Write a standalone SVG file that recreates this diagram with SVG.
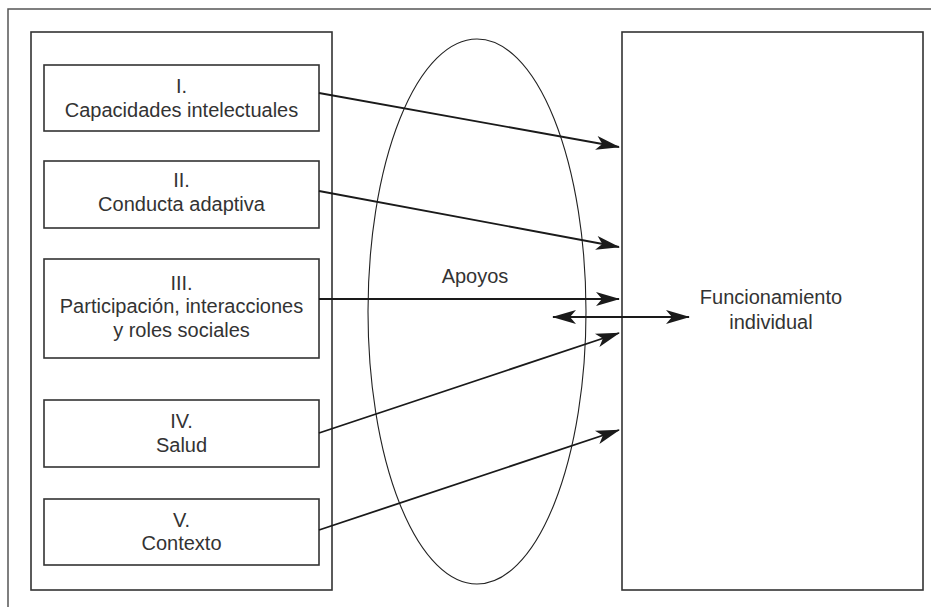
<svg xmlns="http://www.w3.org/2000/svg" width="931" height="607" viewBox="0 0 931 607">
<style>
  .frame { fill: none; stroke: #555; stroke-width: 1.5; }
  .box { fill: #fff; stroke: #333; stroke-width: 1.6; }
  .ell { fill: none; stroke: #222; stroke-width: 1.1; }
  .conn { fill: none; stroke: #1a1a1a; stroke-width: 1.8; }
  text { font-family: "Liberation Sans", Arial, sans-serif; font-size: 20px; fill: #333; text-anchor: middle; }
</style>
<defs>
  <marker id="ah" viewBox="-24 -8 26 16" refX="0" refY="0" markerWidth="26" markerHeight="16" markerUnits="userSpaceOnUse" orient="auto-start-reverse">
    <path d="M1,0 L-23,-7 L-17,0 L-23,7 Z" fill="#1a1a1a"/>
  </marker>
</defs>
<rect width="931" height="607" fill="#fff"/>
<path class="frame" d="M8,607 L8,9 L931,9"/>
<g id="left-panel">
  <rect class="box" x="31" y="32" width="301" height="558"/>
</g>
<g id="apoyos">
  <ellipse class="ell" cx="477" cy="311.5" rx="109" ry="272.5"/>
  <text x="475" y="283">Apoyos</text>
</g>
<g id="funcionamiento">
  <rect class="box" x="622" y="32" width="301" height="558"/>
  <text x="771" y="304">Funcionamiento</text>
  <text x="771" y="329">individual</text>
</g>
<g id="box1">
  <rect class="box" x="44" y="65" width="275" height="66"/>
  <text x="181.5" y="93">I.</text>
  <text x="181.5" y="117">Capacidades intelectuales</text>
</g>
<g id="box2">
  <rect class="box" x="44" y="161" width="275" height="67"/>
  <text x="181.5" y="187">II.</text>
  <text x="181.5" y="211">Conducta adaptiva</text>
</g>
<g id="box3">
  <rect class="box" x="44" y="259" width="275" height="99"/>
  <text x="181.5" y="290">III.</text>
  <text x="181.5" y="313">Participación, interacciones</text>
  <text x="181.5" y="337">y roles sociales</text>
</g>
<g id="box4">
  <rect class="box" x="44" y="400" width="275" height="67"/>
  <text x="181.5" y="428">IV.</text>
  <text x="181.5" y="452">Salud</text>
</g>
<g id="box5">
  <rect class="box" x="44" y="499" width="275" height="66"/>
  <text x="181.5" y="527">V.</text>
  <text x="181.5" y="550">Contexto</text>
</g>
<g id="connectors">
  <path class="conn" d="M319,93 L619,147" marker-end="url(#ah)"/>
  <path class="conn" d="M319,191 L619,247" marker-end="url(#ah)"/>
  <path class="conn" d="M319,299 L619,299" marker-end="url(#ah)"/>
  <path class="conn" d="M553,317 L689,317" marker-start="url(#ah)" marker-end="url(#ah)"/>
  <path class="conn" d="M319,433 L619,333" marker-end="url(#ah)"/>
  <path class="conn" d="M319,530 L619,430" marker-end="url(#ah)"/>
</g>
</svg>
